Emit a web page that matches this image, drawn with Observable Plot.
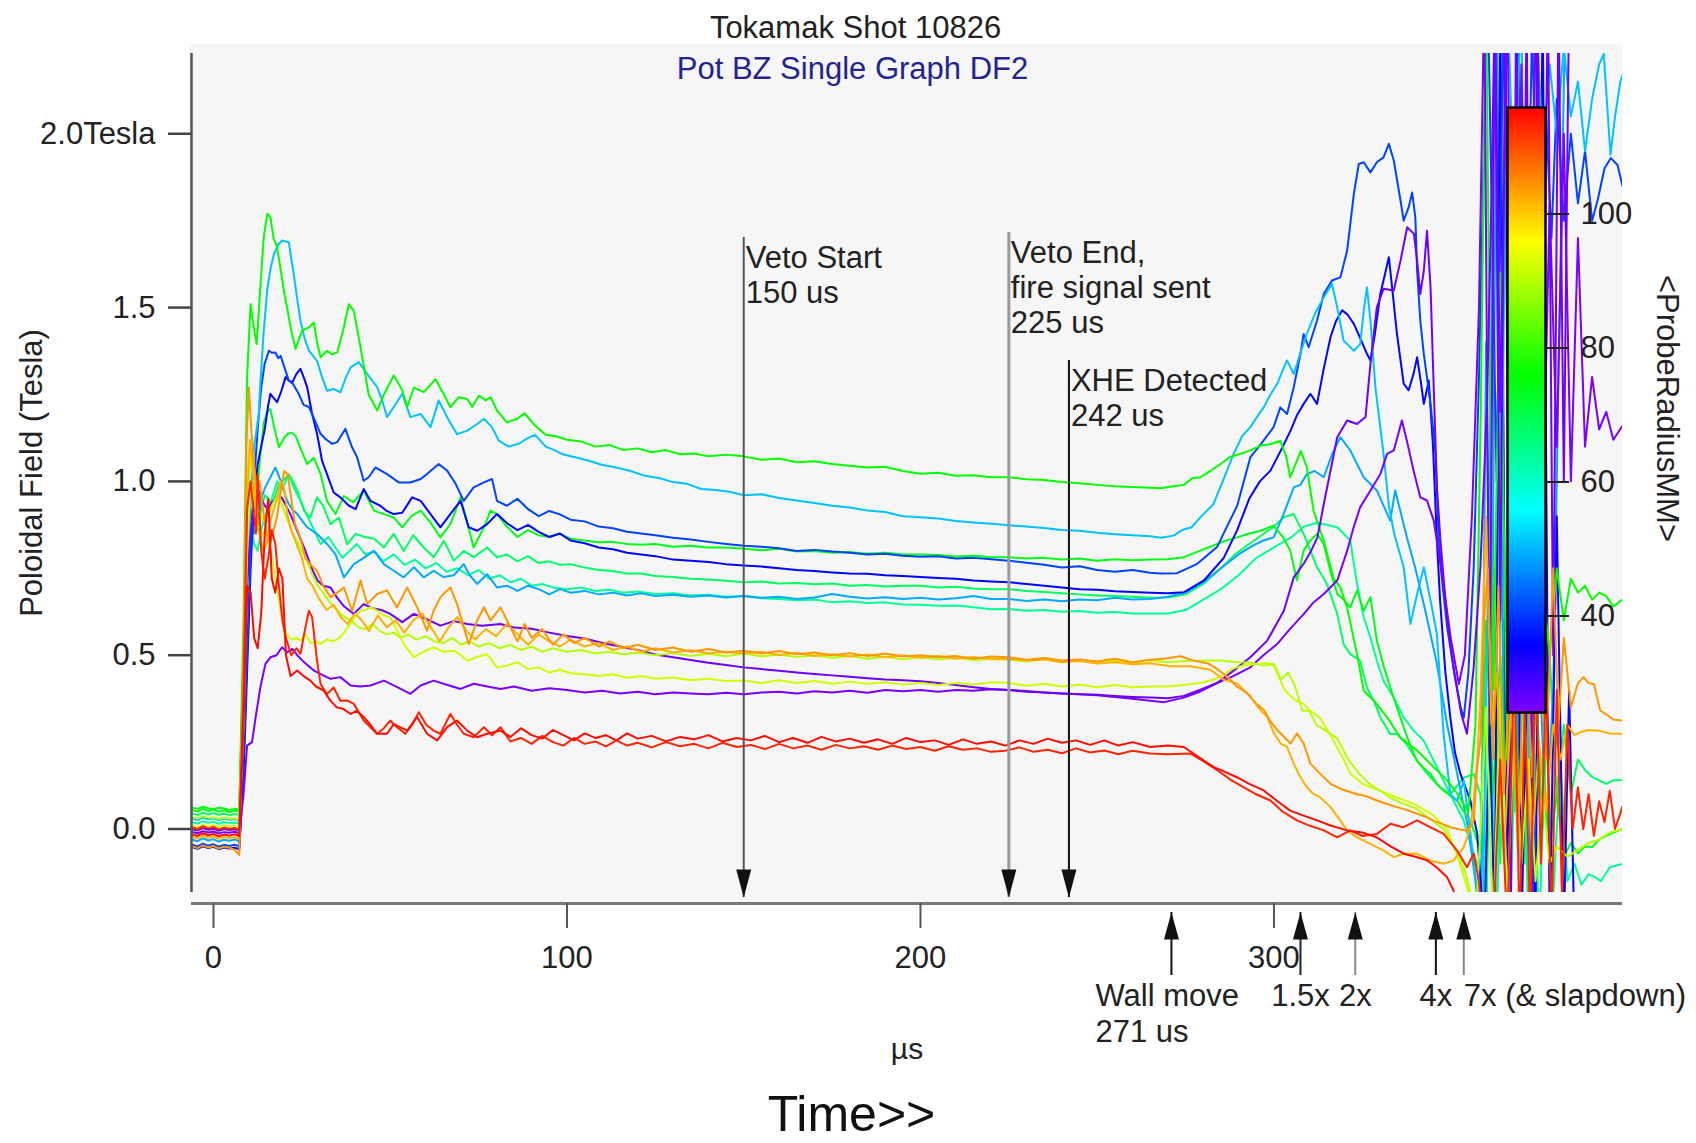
<!DOCTYPE html>
<html><head><meta charset="utf-8">
<script src="https://cdn.jsdelivr.net/npm/d3@7"></script>
<script src="https://cdn.jsdelivr.net/npm/@observablehq/plot@0.6"></script>
<style>
html,body{margin:0;padding:0;background:#fff;}
#wrap{position:relative;width:1696px;height:1143px;overflow:hidden;}
</style></head><body><div id="wrap"></div>
<script>
// ---------------- DATA ----------------
const xDomain = [-6.22, 398.6];
const yDomain = [-0.1826, 2.2309];
const xTicks = [0, 100, 200, 300];
const yTicks = [0, 0.5, 1, 1.5, 2];
const radiusDomain = [25.6, 115.9];
const radiusTicks = [40, 60, 80, 100];

const vetoTimes = [150, 225, 242];
const vetoLabels = ["Veto Start\n150 us", "Veto End,\nfire signal sent\n225 us", "XHE Detected\n242 us"];
const wallTimes = [271, 307.5, 323, 345.8, 353.7];
const wallLabels = ["Wall move\n271 us", "1.5x", "2x", "4x", "7x (& slapdown)"];

const greenTop = [[-6.2,0.055],[-4.5,0.05],[-3,0.058],[-1.5,0.052],[0,0.056],[1.5,0.05],[3,0.054],[4.5,0.049],[6,0.053],[7.3,0.05],
[8.5,0.6],[9.5,1.3],[10.5,1.51],[11.3,1.45],[12.2,1.395],[13.2,1.55],[14.2,1.7],[15.2,1.77],[16.1,1.76],[17,1.7],[18,1.673],[19,1.61],[19.9,1.549],[21,1.49],[21.8,1.443],[23.2,1.381],[24.2,1.41],[25.1,1.434],[27,1.443],[28.4,1.457],[29.3,1.4],[30.3,1.357],[32.1,1.376],[33.5,1.365],[35,1.371],[36.8,1.44],[38.3,1.51],[39.7,1.49],[41.6,1.386],[43.9,1.25],[46.3,1.204],[48.2,1.25],[51,1.305],[53.4,1.262],[54.8,1.214],[56.7,1.27],[59.5,1.257],[62.8,1.294],[65.2,1.25],[67,1.214],[69.4,1.242],[71.8,1.237],[73.2,1.214],[75.1,1.247],[77,1.233],[78.4,1.242],[80.2,1.204],[83,1.17],[86,1.18],[88,1.196],[91,1.16],[94,1.134],[97,1.13],[100,1.12],[104,1.115],[108,1.1],[112,1.105],[116,1.09],[120,1.095],[124,1.084],[128,1.09],[132,1.078],[136,1.08],[140,1.072],[145,1.077],[150,1.072],[155,1.062],[160,1.066],[165,1.055],[170,1.058],[175,1.05],[180,1.045],[185,1.04],[190,1.042],[195,1.03],[200,1.022],[205,1.025],[210,1.016],[215,1.018],[220,1.012],[225,1.012],[230,1.006],[235,1.004],[240,0.998],[245,0.995],[250,0.99],[255,0.986],[260,0.984],[265,0.982],[268,0.98],[271,0.985],[274.5,0.99],[277,1.01],[279.2,1.012],[282,1.03],[284.9,1.05],[287.5,1.07],[290.5,1.079],[293.5,1.09],[296.2,1.103],[299,1.107],[301.8,1.117],[303.5,1.07],[304.6,1.012],[306.5,1.06],[307.6,1.088],[309.3,1.04],[311.2,0.916],[314.1,0.829],[316.9,0.72],[318.8,0.695],[320.7,0.637],[323.5,0.503],[325.4,0.398],[328.2,0.37],[332,0.322],[335.7,0.264],[340.5,0.226],[345.2,0.178],[349,0.14],[352,0.1],[355,0.05],[357,0.3],[358.5,1.2],[360,2.4],[362,0.4],[364,1.6],[366,0.2],[368,0.9],[370,0.5],[372,0.8],[374,0.3],[376,0.7],[378,0.5],[380,0.75],[382,0.6],[384,0.72],[386,0.68],[388,0.7],[390,0.66],[392,0.68],[394,0.67],[396,0.64],[398.6,0.66]];

const skyTop = [[-6.2,0.03],[-4.5,0.026],[-3,0.033],[-1.5,0.028],[0,0.031],[1.5,0.025],[3,0.03],[4.5,0.027],[6,0.029],[7.3,0.025],
[8.5,0.3],[9.5,0.7],[10.5,0.95],[11.5,1.1],[12.8,1.194],[13.3,1.29],[14.2,1.43],[15.2,1.55],[16.1,1.61],[17.1,1.654],[18.3,1.68],[19.4,1.693],[20.5,1.69],[21.3,1.688],[22.7,1.597],[23.6,1.53],[24.6,1.463],[25.8,1.41],[27,1.376],[29.3,1.347],[30.7,1.3],[32.1,1.261],[34,1.266],[35.9,1.256],[37.5,1.3],[38.8,1.328],[41.1,1.343],[43.5,1.309],[46.3,1.271],[47.8,1.23],[49.1,1.185],[51,1.214],[53.4,1.252],[55.7,1.185],[58.6,1.194],[61.4,1.156],[63.7,1.233],[66.6,1.175],[68.9,1.136],[71.8,1.146],[74.6,1.165],[76.5,1.18],[78.8,1.156],[80.7,1.117],[83.5,1.1],[86.5,1.109],[89,1.125],[91,1.134],[94,1.1],[96.5,1.09],[98.8,1.078],[102,1.07],[106,1.06],[110,1.047],[114,1.04],[118,1.03],[122,1.016],[126,1.01],[130,0.998],[134,0.993],[138,0.978],[142,0.975],[146,0.97],[150,0.96],[155,0.963],[160,0.952],[165,0.945],[170,0.938],[175,0.93],[180,0.925],[185,0.916],[190,0.912],[195,0.9],[200,0.897],[205,0.893],[210,0.886],[215,0.882],[220,0.878],[225,0.874],[230,0.87],[235,0.866],[240,0.86],[245,0.858],[250,0.852],[255,0.848],[260,0.845],[265,0.842],[268,0.838],[271.6,0.844],[274,0.86],[276.7,0.868],[279.5,0.9],[282.9,0.935],[285.5,1.0],[288.6,1.079],[291,1.13],[293.3,1.156],[295.5,1.19],[297.1,1.213],[299,1.25],[300.9,1.28],[302.5,1.32],[303.7,1.348],[305.6,1.309],[307.5,1.37],[309.3,1.424],[311.5,1.48],[314.1,1.53],[316.4,1.568],[317.9,1.5],[319.7,1.405],[322.6,1.376],[324.4,1.395],[325.5,1.5],[326.3,1.558],[327.3,1.462],[328.7,1.27],[331,1.079],[332.5,0.93],[334,0.85],[336.7,0.753],[338.6,0.59],[340.5,0.676],[342.4,0.753],[344.3,0.657],[346.1,0.561],[348,0.273],[349.9,0.1],[351.8,0.081],[353.7,0.139],[355.6,-0.014],[357.5,-0.177],[359,-0.3],[361,1.0],[362.5,2.4],[364,0.5],[366,2.4],[368,1.8],[370,2.4],[372,0.2],[374,2.4],[376,1.95],[378,2.2],[380,2.0],[382,2.25],[384,2.05],[386,2.15],[388,1.95],[390,2.1],[392,2.2],[393.3,2.23],[395.2,1.94],[396.5,2.05],[398,2.15],[398.6,2.17]];

const blueUpper = [[-6.2,-0.045],[-4.5,-0.05],[-3,-0.042],[-1.5,-0.048],[0,-0.044],[1.5,-0.051],[3,-0.046],[4.5,-0.049],[6,-0.045],[7.3,-0.05],
[8.5,0.2],[9.5,0.5],[10.5,0.8],[11.5,1.0],[12.5,1.15],[13.5,1.27],[14.5,1.34],[15.7,1.376],[16.5,1.37],[17.5,1.371],[18.3,1.355],[19,1.361],[20,1.33],[21.3,1.29],[22.5,1.28],[24.1,1.252],[25.5,1.22],[27,1.214],[28.5,1.18],[30.3,1.137],[31.7,1.122],[33.6,1.108],[35,1.113],[37.3,1.151],[39.2,1.098],[40.6,1.07],[42.5,1.002],[43.9,1.012],[45.8,1.04],[49.1,1.021],[52.4,0.997],[55.7,0.997],[58.6,1.007],[60.4,1.021],[63.7,1.05],[66.1,1.031],[68.5,0.993],[70.8,0.944],[73.6,0.983],[76.5,0.997],[78.8,1.007],[80.2,0.944],[83,0.93],[86,0.95],[89,0.92],[92,0.9],[95,0.915],[98,0.905],[101,0.89],[105,0.885],[109,0.87],[113,0.865],[117,0.855],[121,0.85],[125,0.845],[130,0.838],[135,0.833],[140,0.826],[145,0.82],[150,0.815],[155,0.812],[160,0.808],[165,0.8],[170,0.803],[175,0.798],[180,0.795],[185,0.79],[190,0.792],[195,0.786],[200,0.783],[205,0.785],[210,0.778],[215,0.78],[220,0.776],[225,0.772],[230,0.766],[235,0.76],[240,0.752],[245,0.756],[250,0.745],[255,0.74],[260,0.745],[265,0.737],[268,0.735],[272.6,0.736],[278.3,0.763],[283.9,0.811],[286.7,0.87],[289.6,0.93],[293.3,1.069],[296.5,1.11],[299.9,1.156],[301.8,1.213],[303.7,1.194],[305.6,1.271],[307.5,1.367],[308.4,1.424],[309.8,1.386],[312.2,1.463],[314.1,1.54],[316.4,1.578],[318.8,1.587],[320.7,1.664],[322.6,1.827],[324,1.913],[325.4,1.918],[327.3,1.889],[329.1,1.918],[331,1.932],[332.5,1.971],[333.9,1.923],[335.8,1.808],[336.7,1.75],[338.1,1.788],[339.1,1.831],[340,1.759],[340.5,1.606],[341.4,1.462],[342.4,1.366],[344.3,1.222],[345.7,1.079],[346.6,0.84],[347.5,0.72],[349,0.58],[351,0.45],[352.8,0.35],[353.7,0.32],[355,0.45],[356.5,0.75],[358,1.3],[359.5,2.0],[360.5,2.4],[363,1.0],[365,2.4],[367,0.3],[369,2.4],[371,1.2],[373,2.3],[375,1.5],[377,2.05],[378.5,1.7],[380,2.1],[382,1.75],[384,2.0],[386,1.8],[388,1.95],[390,1.75],[391.6,1.81],[393.5,1.9],[395.3,1.93],[397.2,1.91],[398.6,1.85]];

const blueLower = [[-6.2,-0.052],[-4.5,-0.057],[-3,-0.05],[-1.5,-0.055],[0,-0.051],[1.5,-0.058],[3,-0.053],[4.5,-0.056],[6,-0.054],[7.3,-0.058],
[8.5,0.15],[9.5,0.45],[10.5,0.75],[11.5,0.95],[12.5,1.05],[13.5,1.1],[14.5,1.15],[15.5,1.22],[16.1,1.252],[17,1.24],[18,1.228],[19.2,1.26],[20.4,1.3],[21.3,1.29],[22.3,1.285],[23.5,1.31],[24.6,1.324],[25.5,1.3],[26.5,1.271],[27.9,1.194],[29.3,1.137],[30.7,1.06],[32.1,1.021],[34,0.968],[35.9,0.954],[38.3,0.93],[40.2,0.92],[42.5,0.978],[44.4,0.944],[47.2,0.93],[49,0.915],[51,0.906],[53.4,0.91],[56.2,0.954],[58.6,0.944],[61.4,0.906],[64.2,0.868],[67,0.906],[69.9,0.944],[72.2,0.868],[74.6,0.858],[77.4,0.877],[80.2,0.906],[83,0.88],[86,0.86],[89,0.875],[92,0.855],[95,0.84],[98,0.85],[101,0.83],[105,0.822],[109,0.81],[113,0.805],[117,0.795],[121,0.79],[125,0.785],[130,0.775],[135,0.772],[140,0.768],[145,0.762],[150,0.758],[155,0.755],[160,0.75],[165,0.745],[170,0.742],[175,0.738],[180,0.735],[185,0.734],[190,0.73],[195,0.728],[200,0.725],[205,0.722],[210,0.72],[215,0.715],[220,0.712],[225,0.71],[230,0.705],[235,0.7],[240,0.695],[245,0.69],[250,0.688],[255,0.684],[260,0.682],[265,0.68],[270,0.678],[274.5,0.681],[280.2,0.715],[285.8,0.78],[289.6,0.86],[293,0.95],[296,1.0],[299,1.031],[302,1.09],[304.7,1.146],[306.5,1.19],[308.4,1.223],[310.3,1.252],[312.2,1.223],[314,1.32],[316,1.415],[317.5,1.46],[319.3,1.492],[320.8,1.48],[322.6,1.453],[324.5,1.41],[326.3,1.367],[327.3,1.348],[328.5,1.42],[330.1,1.54],[331.5,1.6],[332.5,1.645],[333.5,1.55],[334.8,1.424],[336.7,1.281],[338.1,1.262],[339.5,1.31],[340.5,1.357],[341.5,1.29],[342.4,1.223],[343.8,1.29],[345,1.1],[346.1,0.829],[347,0.657],[348.5,0.45],[349.9,0.32],[351.2,0.22],[352.8,0.157],[355.6,0.081],[357.5,-0.014],[358.5,-0.158],[359.5,-0.3],[361,0.3],[362.5,-0.3],[364,2.4],[366,-0.3],[368,1.8],[370,-0.3],[372,0.6],[374,-0.3],[376,2.4],[378,-0.3],[380,0.9],[382,-0.3],[383.5,0.4],[385,-0.3]];

const greenMid = [[-6.2,0.062],[-4.5,0.058],[-3,0.064],[-1.5,0.06],[0,0.057],[1.5,0.062],[3,0.059],[4.5,0.055],[6,0.058],[7.3,0.056],
[8.5,0.5],[9.5,0.85],[10.5,1.0],[11.4,0.99],[12.4,0.982],[13.3,1.08],[14.2,1.168],[15.2,1.2],[16.1,1.208],[17.3,1.15],[18.5,1.098],[19.7,1.12],[20.8,1.136],[22,1.14],[23.2,1.132],[24.8,1.09],[26.5,1.05],[28.4,1.068],[30.3,1.021],[32.1,0.944],[34.5,0.906],[36.9,0.958],[39.5,0.94],[42.5,0.973],[45.4,0.916],[48.2,0.906],[51,0.896],[53.4,0.868],[56,0.9],[58.6,0.916],[61.5,0.88],[64.2,0.839],[67,0.877],[69.9,0.954],[71.8,0.88],[73.6,0.81],[76.5,0.868],[78.4,0.916],[80.2,0.906],[83,0.87],[86,0.84],[89,0.86],[92,0.845],[95,0.84],[98,0.85],[101,0.835],[105,0.83],[109,0.825],[113,0.826],[117,0.82],[121,0.818],[125,0.82],[130,0.812],[135,0.815],[140,0.81],[145,0.81],[150,0.806],[155,0.802],[160,0.806],[165,0.798],[170,0.8],[175,0.795],[180,0.797],[185,0.792],[190,0.795],[195,0.79],[200,0.79],[205,0.788],[210,0.784],[215,0.786],[220,0.782],[225,0.782],[230,0.778],[235,0.78],[240,0.775],[245,0.778],[250,0.772],[255,0.776],[260,0.773],[265,0.775],[270,0.776],[274.5,0.782],[279,0.8],[283.9,0.82],[286.5,0.83],[289.6,0.839],[293,0.85],[296.2,0.858],[299.9,0.873],[302.5,0.84],[304.6,0.801],[306.5,0.715],[308.4,0.801],[310.3,0.83],[312.2,0.849],[314.1,0.82],[316,0.74],[317.9,0.676],[319.7,0.66],[321.6,0.638],[323.5,0.686],[325.4,0.628],[327.3,0.667],[329.1,0.542],[331,0.47],[332.9,0.407],[334.8,0.35],[336.7,0.292],[338.6,0.24],[340.5,0.196],[342.4,0.175],[344.3,0.158],[346.1,0.13],[348,0.11],[350,0.095],[351.8,0.082],[353.7,0.05],[355.6,0.024],[358.4,-0.062],[360,0.6],[362,0.1],[364,0.5],[366,0.0],[368,0.4],[370,-0.05],[372,0.35],[374,0.05],[376,0.2],[378,-0.05],[380,0.1],[382,-0.08],[384,-0.04],[386,-0.07],[388,-0.05],[390,-0.052],[392,-0.03],[394,-0.02],[396,-0.01],[398.6,0.0]];

const tealMid = [[-6.2,0.045],[-4.5,0.04],[-3,0.047],[-1.5,0.042],[0,0.046],[1.5,0.041],[3,0.044],[4.5,0.04],[6,0.043],[7.3,0.04],
[8.5,0.5],[9.5,0.85],[10.5,0.92],[11.5,0.88],[12.5,0.86],[13.5,0.92],[14.5,0.96],[15.5,0.95],[16.5,0.93],[17.5,0.96],[18.5,0.99],[19.5,1.0],[21.3,1.02],[22.5,1.0],[23.7,0.974],[25.6,0.916],[27.4,0.896],[29.3,0.954],[31,0.93],[33.1,0.877],[35.5,0.896],[37.8,0.819],[40.2,0.849],[42.8,0.84],[45.5,0.835],[48.2,0.81],[51,0.849],[53.8,0.8],[56.5,0.845],[59.5,0.81],[62.3,0.782],[65.2,0.829],[68,0.772],[70.8,0.8],[73.6,0.782],[77.4,0.81],[80.2,0.782],[83,0.79],[86,0.77],[89,0.785],[92,0.765],[95,0.77],[98,0.76],[101,0.762],[105,0.752],[109,0.745],[113,0.742],[117,0.735],[121,0.735],[125,0.728],[130,0.725],[135,0.72],[140,0.718],[145,0.714],[150,0.71],[155,0.712],[160,0.706],[165,0.708],[170,0.704],[175,0.706],[180,0.7],[185,0.702],[190,0.698],[195,0.7],[200,0.7],[205,0.695],[210,0.697],[215,0.692],[220,0.69],[225,0.69],[230,0.685],[235,0.682],[240,0.678],[245,0.675],[250,0.672],[255,0.67],[260,0.668],[265,0.665],[270,0.666],[275,0.675],[280,0.705],[285,0.75],[289,0.79],[293,0.82],[296.5,0.845],[300,0.87],[302.8,0.897],[305.6,0.906],[308.4,0.849],[310.3,0.801],[312.2,0.753],[315,0.705],[317.9,0.619],[319.7,0.532],[321.6,0.503],[324.4,0.484],[326.3,0.407],[328.2,0.369],[330.1,0.321],[332.9,0.273],[334.8,0.273],[337.6,0.244],[340.5,0.196],[344.3,0.148],[347.1,0.119],[349.9,0.1],[353.7,0.148],[356.5,0.158],[358.4,0.1],[360,-0.3],[362,0.7],[364,-0.1],[366,0.5],[368,0.05],[370,0.6],[372,-0.3],[374,0.45],[376,0.0],[378,0.5],[380,0.1],[382,0.3],[384,0.1],[386,0.2],[388,0.17],[390,0.15],[392,0.14],[394,0.13],[396,0.14],[398.6,0.14]];

const cyanMid = [[-6.2,-0.03],[-4.5,-0.035],[-3,-0.027],[-1.5,-0.033],[0,-0.029],[1.5,-0.036],[3,-0.031],[4.5,-0.034],[6,-0.03],[7.3,-0.035],
[8.5,0.35],[9.5,0.8],[10.5,0.9],[11.5,0.85],[12.5,0.88],[13.5,0.95],[14.5,0.98],[15.5,1.0],[16.5,1.02],[17.5,1.04],[19,1.002],[20.8,0.945],[22.2,0.92],[23.7,0.906],[26.5,0.868],[29.3,0.849],[32.1,0.82],[34.5,0.791],[36.9,0.724],[39.7,0.762],[42.5,0.78],[45.4,0.8],[48.2,0.762],[51,0.743],[53.8,0.724],[56.7,0.753],[59.5,0.724],[62.3,0.743],[65,0.725],[68,0.73],[70.8,0.762],[72.5,0.73],[74.6,0.705],[77.4,0.733],[80.2,0.695],[83,0.7],[86,0.685],[89,0.7],[92,0.69],[95,0.675],[98,0.69],[101,0.68],[105,0.685],[109,0.675],[113,0.68],[117,0.672],[121,0.678],[125,0.67],[130,0.674],[135,0.668],[140,0.672],[145,0.666],[150,0.67],[155,0.665],[160,0.668],[165,0.662],[170,0.666],[175,0.676],[180,0.668],[185,0.663],[190,0.667],[195,0.662],[200,0.665],[205,0.66],[210,0.664],[215,0.67],[220,0.662],[225,0.662],[230,0.656],[235,0.66],[240,0.655],[245,0.66],[250,0.658],[255,0.665],[260,0.66],[265,0.662],[270,0.668],[275,0.68],[280,0.71],[285,0.75],[290,0.79],[294,0.815],[297,0.83],[299.9,0.839],[302.5,0.9],[305.6,0.983],[307.5,0.99],[309.3,1.021],[311.5,1.03],[314.1,1.012],[316.5,1.08],[318.8,1.127],[321.6,1.089],[323.5,1.05],[325.4,1.012],[329.1,0.974],[332.9,0.887],[334.3,0.974],[337.6,0.839],[340,0.75],[343,0.62],[346,0.48],[349,0.3],[352,0.15],[355,0.0],[357,-0.15],[358.5,-0.3],[360,1.4],[361.5,0.1],[363,2.4],[365,0.3],[367,1.0],[369,0.2],[371,0.6],[373,-0.3],[375,0.5],[377,0.0],[379,0.4],[381,1.6],[382.5,2.4]];

const seaGreen = [[-6.2,0.02],[-4.5,0.016],[-3,0.022],[-1.5,0.018],[0,0.021],[1.5,0.015],[3,0.02],[4.5,0.017],[6,0.019],[7.3,0.015],
[8.5,0.4],[9.5,0.8],[10.5,0.88],[11.5,0.82],[12.5,0.8],[13.5,0.86],[14.5,0.9],[15.5,0.92],[16.5,0.95],[18,1.0],[19.5,0.98],[21.3,1.02],[22.8,0.98],[24.6,0.945],[26.5,0.9],[28.5,0.86],[30.3,0.82],[32.5,0.84],[34.5,0.81],[36.5,0.78],[38.5,0.8],[40.5,0.82],[43,0.79],[45.5,0.8],[48,0.77],[51,0.79],[54,0.76],[57,0.775],[60,0.75],[63,0.765],[66,0.74],[69,0.75],[72,0.73],[75,0.745],[78,0.72],[81,0.73],[84,0.71],[87,0.72],[90,0.7],[93,0.705],[96,0.695],[100,0.69],[104,0.695],[108,0.685],[112,0.688],[116,0.68],[120,0.683],[125,0.676],[130,0.678],[135,0.672],[140,0.674],[145,0.668],[150,0.67],[155,0.664],[160,0.662],[165,0.658],[170,0.66],[175,0.652],[180,0.655],[185,0.65],[190,0.652],[195,0.646],[200,0.645],[205,0.642],[210,0.643],[215,0.638],[220,0.632],[225,0.633],[230,0.628],[235,0.63],[240,0.625],[245,0.627],[250,0.622],[255,0.624],[260,0.62],[265,0.62],[270,0.62],[275,0.63],[280,0.66],[285,0.69],[290,0.73],[295,0.78],[300,0.81],[305,0.84],[308.5,0.87],[312,0.88],[315,0.875],[317.9,0.868],[321.6,0.83],[323.5,0.705],[325.4,0.609],[327.3,0.551],[329.1,0.484],[331,0.426],[333.9,0.378],[336.7,0.321],[339.5,0.283],[342.4,0.254],[345.2,0.196],[348,0.139],[350.8,0.082],[353.7,0.024],[355.6,-0.043],[358.4,-0.129],[359.5,-0.3],[361,0.5],[363,-0.3],[365,0.6],[367,-0.2],[369,0.55],[371,-0.1],[373,0.45],[375,-0.3],[377,0.3],[379,-0.2],[381,0.2],[383,-0.15],[385,-0.1],[387,-0.16],[389,-0.13],[391,-0.14],[392.5,-0.15],[395,-0.11],[398.6,-0.1]];

const orangeA = [[-6.2,-0.05],[-4.5,-0.055],[-3,-0.047],[-1.5,-0.053],[0,-0.049],[1.5,-0.056],[3,-0.051],[4.5,-0.054],[6,-0.06],[7.3,-0.075],
[8.5,0.5],[9.3,1.1],[10,1.27],[10.7,1.15],[11.4,1.057],[12.2,0.98],[13,1.0],[14,0.92],[15,0.85],[16,0.82],[17,0.86],[18,0.9],[19,0.97],[20,1.03],[21,1.02],[22,0.95],[23,0.88],[24.5,0.84],[26,0.78],[27.5,0.76],[29.3,0.743],[31,0.7],[33.1,0.667],[35,0.68],[36.9,0.695],[39.2,0.628],[41.6,0.715],[43.5,0.647],[46.3,0.676],[49.1,0.686],[51.9,0.638],[54.8,0.695],[57.6,0.638],[60.4,0.571],[62.3,0.628],[64.2,0.667],[67,0.695],[68.9,0.647],[72.2,0.532],[74.6,0.6],[76.5,0.638],[78.4,0.6],[81.2,0.638],[84,0.58],[86,0.54],[88,0.59],[90,0.55],[93,0.575],[96,0.53],[99,0.56],[102,0.535],[105,0.55],[109,0.525],[112,0.54],[116,0.52],[120,0.53],[125,0.515],[130,0.522],[135,0.51],[140,0.518],[145,0.508],[150,0.513],[155,0.505],[160,0.512],[165,0.503],[170,0.508],[175,0.5],[180,0.506],[185,0.498],[190,0.505],[195,0.496],[200,0.5],[205,0.495],[210,0.498],[215,0.49],[220,0.496],[225,0.494],[230,0.487],[235,0.492],[240,0.485],[245,0.488],[250,0.482],[255,0.49],[260,0.48],[265,0.487],[269,0.49],[273.6,0.497],[277,0.485],[281.2,0.477],[284,0.46],[286.8,0.438],[289.5,0.41],[292.5,0.39],[295,0.36],[297.2,0.342],[299,0.31],[301,0.284],[304.7,0.246],[306.5,0.275],[308.4,0.246],[310.3,0.188],[313,0.16],[316,0.13],[319,0.115],[323.5,0.1],[326,0.095],[329.1,0.082],[332,0.072],[334.8,0.063],[337.5,0.055],[340.5,0.044],[343,0.035],[345.2,0.024],[347.5,0.015],[349.9,0.005],[352,0.0],[354.6,-0.005],[356.5,0.024],[357.5,0.177],[358.4,0.254],[359.5,0.6],[360.5,0.75],[362,0.2],[363.5,0.7],[365,0.1],[367,0.5],[369,-0.05],[371,0.6],[373,0.15],[375,0.55],[377,0.2],[379,0.75],[380.5,0.3],[382,0.55],[384,0.35],[386,0.42],[387.6,0.437],[389,0.42],[390.5,0.417],[392.3,0.341],[394,0.33],[396,0.315],[398.6,0.312]];

const orangeB = [[-6.2,-0.022],[-4.5,-0.027],[-3,-0.019],[-1.5,-0.025],[0,-0.021],[1.5,-0.028],[3,-0.023],[4.5,-0.026],[6,-0.024],[7.3,-0.03],
[8.5,0.4],[9.5,0.95],[10.3,1.12],[11,1.05],[12,0.92],[13,0.85],[14,0.8],[15,0.82],[16,0.88],[17,0.92],[18,0.95],[19,1.0],[20,0.98],[21,0.9],[22,0.86],[23.5,0.82],[25,0.78],[26.5,0.72],[28,0.7],[30,0.66],[32,0.63],[34,0.645],[36,0.61],[38,0.59],[40,0.62],[42,0.6],[44,0.57],[46.5,0.615],[49,0.58],[51.5,0.6],[54,0.565],[56.5,0.6],[59,0.62],[61.5,0.58],[64,0.54],[66.5,0.58],[69,0.61],[71.5,0.57],[74,0.545],[77,0.575],[80,0.555],[83,0.59],[86,0.56],[89,0.53],[92,0.56],[95,0.54],[98,0.525],[101,0.545],[105,0.525],[109,0.535],[113,0.515],[117,0.525],[121,0.51],[125,0.52],[130,0.508],[135,0.514],[140,0.505],[145,0.51],[150,0.505],[155,0.51],[160,0.5],[165,0.507],[170,0.498],[175,0.503],[180,0.496],[185,0.502],[190,0.494],[195,0.5],[200,0.493],[205,0.498],[210,0.49],[215,0.495],[220,0.488],[225,0.49],[230,0.485],[235,0.488],[240,0.48],[245,0.483],[250,0.476],[255,0.48],[260,0.474],[265,0.477],[270.6,0.468],[276.4,0.468],[282.1,0.458],[285.8,0.429],[289.6,0.419],[293.3,0.381],[296.2,0.342],[298.1,0.323],[300,0.275],[301.9,0.246],[303.7,0.236],[305.6,0.188],[307.5,0.149],[309.3,0.12],[311.2,0.101],[313.1,0.091],[316,0.063],[318.8,0.024],[320.7,-0.004],[323.5,-0.024],[327.3,-0.043],[331,-0.062],[333.9,-0.081],[336.7,-0.071],[340.5,-0.071],[344.3,-0.091],[348,-0.1],[350.8,-0.091],[353.7,-0.052],[355.6,0.005],[356.5,0.082],[357.5,0.2],[358.5,0.4],[360,0.9],[361.5,0.3],[363,0.45],[365,-0.1],[367,0.35],[369,0.0],[371,0.3],[373,-0.05],[375,0.25],[377,0.05],[379,0.3],[381,0.2],[383,0.3],[385,0.27],[387,0.28],[389,0.285],[392,0.283],[395,0.275],[398.6,0.274]];

const yellowGreenA = [[-6.2,0.035],[-4.5,0.03],[-3,0.037],[-1.5,0.032],[0,0.034],[1.5,0.029],[3,0.033],[4.5,0.03],[6,0.031],[7.3,0.028],
[8.5,0.4],[9.5,0.9],[10.5,1.08],[11.5,1.0],[12.5,0.93],[13.5,0.9],[14.5,0.88],[15.5,0.9],[16.5,0.93],[17.5,0.95],[18.5,0.96],[19.5,0.93],[20.5,0.9],[22,0.86],[23.5,0.83],[25,0.8],[26.5,0.77],[28,0.73],[29.5,0.7],[31,0.68],[33,0.65],[35,0.63],[37,0.61],[39,0.6],[41,0.58],[43,0.575],[45,0.59],[47,0.57],[49,0.56],[51,0.565],[53,0.55],[55,0.56],[57.5,0.545],[60,0.555],[62.5,0.54],[65,0.535],[67.5,0.55],[70,0.53],[72.5,0.54],[75,0.525],[78,0.535],[81,0.52],[84,0.53],[87,0.515],[90,0.525],[93,0.51],[96,0.52],[100,0.51],[104,0.515],[108,0.505],[112,0.51],[116,0.503],[120,0.508],[125,0.5],[130,0.506],[135,0.498],[140,0.504],[145,0.497],[150,0.505],[155,0.497],[160,0.502],[165,0.495],[170,0.5],[175,0.493],[180,0.498],[185,0.49],[190,0.496],[195,0.488],[200,0.495],[205,0.488],[210,0.493],[215,0.486],[220,0.49],[225,0.487],[230,0.482],[235,0.488],[240,0.48],[245,0.486],[250,0.48],[255,0.484],[260,0.478],[265,0.485],[270,0.48],[275,0.483],[280,0.485],[285,0.485],[290,0.48],[294,0.478],[297,0.47],[300,0.475],[302,0.43],[304,0.45],[306,0.41],[308,0.34],[310,0.34],[312,0.3],[315,0.28],[318,0.26],[321,0.2],[324,0.16],[327,0.13],[330,0.11],[333,0.09],[336,0.075],[340,0.06],[344,0.03],[348,0.0],[351,-0.05],[354,-0.12],[356,-0.2],[357,-0.3],[360,0.35],[362,-0.3],[364,0.4],[366,-0.2],[368,0.3],[370,-0.1],[372,0.2],[374,-0.15],[376,0.1],[378,-0.1],[380,-0.05],[383,-0.08],[386,-0.06],[389,-0.04],[392,-0.03],[395,-0.01],[398.6,0.0]];

const yellowGreenB = [[-6.2,0.01],[-4.5,0.006],[-3,0.012],[-1.5,0.008],[0,0.011],[1.5,0.005],[3,0.01],[4.5,0.007],[6,0.009],[7.3,0.005],
[8.5,0.3],[9.5,0.8],[10.5,1.0],[11.5,0.95],[12.5,0.88],[13.5,0.84],[14.5,0.86],[15.5,0.83],[16.5,0.78],[17.5,0.72],[18.5,0.66],[19.5,0.6],[20.5,0.565],[21.5,0.55],[22.5,0.545],[23.5,0.55],[24.6,0.542],[26,0.56],[27.5,0.535],[29,0.54],[30.3,0.532],[32,0.545],[34,0.54],[35.9,0.552],[38,0.58],[40,0.61],[41.6,0.628],[43,0.63],[44.4,0.638],[46,0.63],[48,0.615],[50,0.609],[52,0.57],[53.8,0.532],[55.5,0.51],[56.7,0.494],[58.5,0.505],[60.5,0.515],[62.3,0.523],[65,0.51],[68,0.513],[70,0.5],[71.8,0.484],[74.5,0.495],[77.4,0.503],[80.2,0.465],[83,0.47],[86,0.48],[89,0.46],[92,0.465],[95,0.45],[98,0.458],[101,0.448],[105,0.445],[109,0.44],[113,0.445],[117,0.435],[121,0.44],[125,0.432],[130,0.436],[135,0.428],[140,0.432],[145,0.426],[150,0.427],[155,0.42],[160,0.428],[165,0.42],[170,0.426],[175,0.418],[180,0.424],[185,0.418],[190,0.422],[195,0.416],[200,0.42],[205,0.414],[210,0.42],[215,0.416],[220,0.422],[225,0.42],[230,0.412],[235,0.418],[240,0.41],[245,0.415],[250,0.408],[255,0.414],[260,0.408],[265,0.41],[270,0.41],[275,0.415],[279,0.42],[283,0.43],[286,0.445],[288,0.46],[291,0.47],[295,0.475],[298,0.478],[300,0.47],[303,0.4],[306,0.37],[308.4,0.36],[310.3,0.34],[313,0.32],[316,0.27],[319.7,0.2],[321.6,0.16],[325,0.13],[330,0.11],[335,0.09],[340,0.07],[345,0.04],[349,0.0],[352,-0.08],[355,-0.18],[356.5,-0.3]];

const purpleA = [[-6.2,0.0],[-4.5,-0.004],[-3,0.003],[-1.5,-0.002],[0,0.001],[1.5,-0.005],[3,0.0],[4.5,-0.003],[6,-0.001],[7.3,-0.004],
[8.5,0.3],[9.5,0.7],[10.5,0.85],[11.5,0.95],[12.5,0.98],[13.5,0.95],[14.5,0.93],[15.5,0.92],[16.5,0.94],[17.5,0.95],[18.5,0.96],[19.5,0.95],[20.5,0.93],[22,0.9],[24,0.85],[26,0.8],[28,0.745],[29.5,0.714],[31,0.7],[33.1,0.695],[35,0.665],[37,0.64],[39.7,0.619],[42.5,0.647],[45,0.635],[47.5,0.63],[50,0.619],[53.4,0.595],[56.7,0.619],[60,0.605],[64.2,0.585],[68,0.598],[71.8,0.59],[76,0.585],[81.2,0.59],[85,0.58],[90,0.576],[95,0.565],[100,0.555],[105,0.548],[110,0.535],[115,0.525],[120,0.515],[125,0.502],[130,0.494],[135,0.486],[140,0.478],[145,0.472],[150,0.465],[155,0.46],[160,0.455],[165,0.45],[170,0.446],[175,0.442],[180,0.438],[185,0.434],[190,0.43],[195,0.428],[200,0.425],[205,0.42],[210,0.414],[215,0.408],[220,0.403],[225,0.4],[230,0.397],[235,0.393],[240,0.39],[245,0.388],[250,0.386],[255,0.383],[260,0.38],[265,0.378],[270,0.376],[274.5,0.383],[279,0.4],[283.9,0.42],[288.5,0.455],[293.3,0.494],[298.1,0.542],[302.8,0.628],[305.6,0.724],[308.4,0.763],[310.5,0.8],[312.3,0.839],[314.1,0.935],[317.9,1.127],[320.7,1.175],[323.5,1.165],[325.9,1.185],[327.3,1.338],[329.1,1.501],[331,1.554],[333.9,1.549],[335.8,1.635],[337.7,1.731],[339.6,1.712],[340.5,1.635],[341.4,1.539],[342.4,1.606],[343.3,1.721],[344.3,1.558],[345.2,1.27],[346.1,0.983],[347.1,0.83],[349,0.6],[351,0.45],[353,0.33],[354.6,0.274],[356.5,0.465],[358.4,0.753],[360.3,1.232],[361.5,1.8],[362.5,2.4],[364,0.6],[365.5,2.4],[367,-0.3],[368.5,2.4],[370,0.9],[371.5,2.4],[373,-0.3],[374.5,2.4],[376,1.2],[377.5,2.4],[379,0.5],[380.5,2.4],[382,1.0],[383.5,2.4]];

const purpleB = [[-6.2,-0.008],[-4.5,-0.012],[-3,-0.006],[-1.5,-0.01],[0,-0.007],[1.5,-0.013],[3,-0.009],[4.5,-0.011],[6,-0.008],[7.3,-0.012],
[8.5,0.1],[9.5,0.24],[10.9,0.25],[11.9,0.32],[13.3,0.41],[14.7,0.475],[16.1,0.494],[17.8,0.5],[19.4,0.523],[20.8,0.508],[22.3,0.518],[23.7,0.5],[25.1,0.485],[26.8,0.47],[28.4,0.456],[30.5,0.445],[33.1,0.432],[35.9,0.437],[38.8,0.413],[41.5,0.41],[44.4,0.413],[48.2,0.427],[52,0.408],[55.7,0.389],[58.6,0.413],[62.3,0.427],[66,0.415],[69.9,0.403],[73.6,0.418],[77.5,0.41],[81.2,0.403],[85,0.41],[90,0.398],[95,0.405],[100,0.4],[105,0.393],[110,0.398],[115,0.39],[120,0.395],[125,0.388],[130,0.393],[135,0.39],[140,0.388],[145,0.392],[150,0.388],[155,0.393],[160,0.395],[165,0.39],[170,0.396],[175,0.393],[180,0.398],[185,0.392],[190,0.4],[195,0.396],[200,0.4],[205,0.395],[210,0.4],[215,0.398],[220,0.402],[225,0.4],[230,0.395],[235,0.393],[240,0.39],[245,0.388],[250,0.385],[255,0.38],[260,0.375],[265,0.369],[269,0.365],[274.5,0.378],[279,0.395],[283.9,0.42],[288.5,0.44],[293.3,0.465],[297,0.5],[300.9,0.532],[304.5,0.575],[308.4,0.618],[311,0.65],[314.1,0.676],[317.9,0.715],[320.7,0.8],[322.6,0.87],[324.4,0.926],[327.3,0.974],[330.1,1.021],[332,1.079],[333.9,1.089],[336.2,1.175],[337.6,1.117],[339.5,1.031],[341.4,0.954],[343.3,0.945],[345.2,0.887],[346.1,0.829],[348,0.7],[350,0.55],[352.3,0.417],[354,0.5],[356,0.9],[358,1.5],[359.5,2.4],[361,0.3],[362.5,2.4],[364,1.2],[366,2.4],[368,0.8],[370,2.2],[372,1.0],[374,2.4],[376,0.9],[378,1.8],[380,1.1],[382,2.0],[384,1.0],[386,1.7],[388,1.1],[390,1.3],[392,1.15],[394,1.2],[396,1.12],[398.6,1.16]];

const redA = [[-6.2,-0.015],[-4.5,-0.02],[-3,-0.012],[-1.5,-0.018],[0,-0.014],[1.5,-0.021],[3,-0.016],[4.5,-0.019],[6,-0.015],[7.3,-0.02],
[8.5,0.3],[9.5,0.7],[10.5,0.68],[11.5,0.55],[12.5,0.52],[13.5,0.62],[14.5,0.85],[15.5,0.95],[16.5,0.72],[17.5,0.68],[18.5,0.75],[19.5,0.72],[20.5,0.5],[21.8,0.44],[23.7,0.456],[25.5,0.44],[27.4,0.427],[29,0.41],[31.2,0.398],[33,0.37],[34.9,0.35],[36.8,0.345],[38.8,0.331],[40.5,0.34],[42.5,0.322],[44.4,0.3],[46.3,0.274],[49.1,0.274],[51,0.302],[54.8,0.283],[57.6,0.322],[60.4,0.274],[63.3,0.255],[66.1,0.293],[68.9,0.312],[71.8,0.283],[74.6,0.264],[77.4,0.274],[81.2,0.283],[84,0.265],[87,0.29],[90,0.27],[93,0.26],[96,0.285],[99,0.27],[102,0.255],[105,0.275],[108,0.262],[111,0.27],[114,0.255],[117,0.275],[120,0.26],[124,0.268],[128,0.252],[132,0.265],[136,0.258],[140,0.27],[144,0.252],[148,0.262],[152,0.255],[156,0.268],[160,0.25],[164,0.262],[168,0.248],[172,0.265],[176,0.252],[180,0.26],[184,0.248],[188,0.258],[192,0.245],[196,0.262],[200,0.25],[204,0.255],[208,0.242],[212,0.258],[216,0.245],[220,0.252],[224,0.24],[228,0.255],[232,0.245],[236,0.26],[240,0.248],[244,0.255],[248,0.242],[252,0.255],[256,0.24],[260,0.25],[265,0.236],[270,0.24],[274.5,0.236],[279,0.205],[283,0.178],[286,0.165],[289.5,0.149],[293,0.13],[297.1,0.111],[301,0.08],[304.6,0.053],[308,0.04],[312.2,0.025],[316,0.01],[320.7,-0.004],[325,-0.01],[329.1,-0.024],[333,-0.05],[336.7,-0.071],[340,-0.08],[343.3,-0.09],[346,-0.11],[349,-0.139],[350.8,-0.177],[352,-0.3]];

const redB = [[-6.2,0.005],[-4.5,0.0],[-3,0.008],[-1.5,0.002],[0,0.006],[1.5,-0.001],[3,0.004],[4.5,0.001],[6,0.003],[7.3,-0.002],
[8.5,0.4],[9.5,0.92],[10.5,1.0],[11,0.95],[12,0.85],[12.5,1.02],[13.5,0.8],[14.5,0.72],[15.5,0.78],[16.5,0.86],[17.5,0.82],[18.5,0.7],[19.5,0.6],[20.5,0.55],[22,0.5],[23.5,0.52],[24.6,0.504],[26,0.58],[27,0.628],[27.9,0.609],[29.3,0.484],[30.3,0.417],[32.1,0.388],[34,0.407],[35.9,0.369],[37.8,0.37],[39.7,0.36],[42.5,0.312],[44.4,0.293],[46.3,0.274],[48.2,0.29],[50,0.312],[51.9,0.293],[54.3,0.274],[56.2,0.3],[58.1,0.336],[60.2,0.3],[62.3,0.283],[64.2,0.274],[67,0.331],[68.9,0.3],[70.8,0.274],[73.6,0.264],[76.5,0.293],[78.8,0.27],[81.2,0.293],[84,0.252],[87,0.262],[90,0.245],[93,0.268],[96,0.25],[99,0.24],[102,0.262],[105,0.245],[108,0.252],[111,0.238],[114,0.255],[117,0.24],[120,0.248],[124,0.235],[128,0.25],[132,0.238],[136,0.245],[140,0.232],[144,0.248],[148,0.236],[152,0.242],[156,0.23],[160,0.245],[164,0.232],[168,0.24],[172,0.228],[176,0.242],[180,0.232],[184,0.238],[188,0.228],[192,0.24],[196,0.23],[200,0.236],[204,0.225],[208,0.238],[212,0.228],[216,0.232],[220,0.222],[224,0.225],[228,0.235],[232,0.222],[236,0.228],[240,0.218],[244,0.232],[248,0.22],[252,0.226],[256,0.215],[260,0.225],[265,0.217],[270,0.215],[276.4,0.217],[280,0.195],[284,0.169],[288,0.14],[291.5,0.12],[295,0.1],[299,0.082],[302.5,0.05],[306.5,0.025],[310,0.01],[314.1,-0.004],[317.9,-0.024],[321.6,-0.004],[325,-0.02],[329.1,-0.014],[333,0.015],[336.5,0.005],[340.5,0.025],[344.3,0.005],[348,-0.014],[351.8,-0.062],[354.6,-0.11],[356.5,-0.071],[358,-0.15],[359,-0.3],[362,-0.3],[364,0.2],[366,-0.3],[368,0.5],[369.5,-0.3],[371,0.35],[372.5,-0.3],[374,0.52],[375.5,-0.1],[377,0.45],[378.5,-0.3],[380,0.4],[381.5,-0.2],[383,0.3],[384.5,0.0],[386,0.12],[387.5,0.0],[389,0.1],[390.5,-0.02],[392,0.08],[393.5,0.02],[395,0.11],[396.5,0.0],[398.6,0.065]];

const seriesPoints = [seaGreen, tealMid, cyanMid, greenMid, blueLower, blueUpper, skyTop, greenTop, purpleB, purpleA, yellowGreenB, yellowGreenA, orangeB, orangeA, redB, redA];
const seriesRadius = [64, 68, 49, 74, 36, 41, 51, 76, 26, 27, 92, 90, 102, 104, 113, 115];

// ---------------- CHART ----------------
const rows = seriesPoints.flatMap((pts, i) => pts.map(([t, B]) => ({t, B, id: i, radius: seriesRadius[i]})));
const colorOpts = {type: "linear", domain: radiusDomain, interpolate: t => d3.hsl(270 * (1 - t), 1, 0.5).formatHex()};
const font = "'Liberation Sans', Arial, Helvetica, sans-serif";

const downHead = {draw(ctx) { ctx.moveTo(0, 0); ctx.lineTo(-7.5, -28); ctx.lineTo(7.5, -28); ctx.closePath(); }};
const upHead = {draw(ctx) { ctx.moveTo(0, 0); ctx.lineTo(-7.5, 27); ctx.lineTo(7.5, 27); ctx.closePath(); }};

const vetoStyle = [
  {top: 184, stroke: "#555", w: 2, dy: 190},
  {top: 179, stroke: "#999", w: 3, dy: 185},
  {top: 307, stroke: "#111", w: 2, dy: 313}
];
const wallStyle = [
  {stroke: "#111", anchor: "start", dx: -76},
  {stroke: "#222", anchor: "middle", dx: 0},
  {stroke: "#888", anchor: "middle", dx: 0},
  {stroke: "#111", anchor: "middle", dx: 0},
  {stroke: "#888", anchor: "start", dx: 0}
];

const marks = [
  Plot.frame({fill: "#f6f6f6", stroke: null, insetTop: -10, insetBottom: -10, insetLeft: -2}),
  Plot.line(rows, {x: "t", y: "B", z: "id", stroke: "radius", strokeWidth: 2, clip: true, strokeLinejoin: "round"}),
  Plot.ruleX([xDomain[0]], {stroke: "#555", strokeWidth: 2.5}),
  Plot.ruleY([yDomain[0]], {dy: 11, stroke: "#777", strokeWidth: 3}),
  Plot.axisY({ticks: yTicks, tickFormat: d => d === 2 ? "2.0Tesla" : d3.format(".1f")(d), tickSize: 23, tickPadding: 13, stroke: "#444", strokeWidth: 2.5, fill: "#222", label: null}),
  Plot.axisX({ticks: xTicks, tickSize: 25, tickPadding: 17, dy: 11, stroke: "#555", strokeWidth: 2, fill: "#222", label: null}),
  Plot.text(["Poloidal Field (Tesla)"], {frameAnchor: "left", textAnchor: "middle", rotate: -90, dx: -159, fontSize: 31, fill: "#222"}),
  Plot.text(["Tokamak Shot 10826"], {frameAnchor: "top", textAnchor: "middle", lineAnchor: "bottom", dx: -51.5, dy: -16, fontSize: 31, fill: "#222"}),
  Plot.text(["Pot BZ Single Graph DF2"], {frameAnchor: "top", textAnchor: "middle", lineAnchor: "bottom", dx: -54.5, dy: 25, fontSize: 31, fill: "#24248f"}),
  Plot.text(["µs"], {frameAnchor: "bottom", textAnchor: "middle", lineAnchor: "middle", dy: 157, fontSize: 30, fill: "#222"}),
  Plot.text(["Time>>"], {frameAnchor: "bottom", textAnchor: "middle", lineAnchor: "bottom", dx: -55.5, dy: 238, fontSize: 50, fill: "#111"}),
  Plot.text(["<ProbeRadiusMM>"], {frameAnchor: "right", textAnchor: "middle", rotate: 90, dx: 44, dy: -64.5, fontSize: 31, fill: "#222"}),
  ...vetoTimes.map((t, i) => Plot.ruleX([t], {insetTop: vetoStyle[i].top, insetBottom: -5, stroke: vetoStyle[i].stroke, strokeWidth: vetoStyle[i].w})),
  Plot.dot(vetoTimes, {x: d => d, frameAnchor: "bottom", dy: 5, symbol: downHead, fill: "#111", stroke: null}),
  ...vetoTimes.map((t, i) => Plot.text([vetoLabels[i]], {x: () => t, frameAnchor: "top", textAnchor: "start", lineAnchor: "top", lineHeight: 1.13, dx: 2, dy: vetoStyle[i].dy, fontSize: 31, fill: "#222"})),
  ...wallTimes.map((t, i) => Plot.ruleX([t], {insetTop: 859, insetBottom: -83, stroke: wallStyle[i].stroke, strokeWidth: 2})),
  Plot.dot(wallTimes, {x: d => d, frameAnchor: "bottom", dy: 20, symbol: upHead, fill: "#111", stroke: null}),
  ...wallTimes.map((t, i) => Plot.text([wallLabels[i]], {x: () => t, frameAnchor: "bottom", textAnchor: wallStyle[i].anchor, lineAnchor: "top", lineHeight: 1.16, dx: wallStyle[i].dx, dy: 88, fontSize: 31, fill: "#222"}))
];

const chart = Plot.plot({
  width: 1696, height: 1143,
  marginLeft: 191, marginRight: 74, marginTop: 53, marginBottom: 251,
  style: {fontFamily: font, fontSize: "31px", background: "#fff", color: "#222", overflow: "visible"},
  x: {domain: xDomain},
  y: {domain: yDomain},
  color: colorOpts,
  marks
});
const wrap = document.getElementById("wrap");
wrap.appendChild(chart);

// colorbar (vertical ramp) drawn with its own Plot over the chart
const cbStep = 0.5;
const cbSteps = d3.range(radiusDomain[0], radiusDomain[1], cbStep);
const cb = Plot.plot({
  width: 2 + 38 + 150, height: 2 + 605 + 2,
  marginLeft: 2, marginRight: 150, marginTop: 2, marginBottom: 2,
  style: {fontFamily: font, fontSize: "31px", background: "transparent", color: "#222", overflow: "visible"},
  x: {domain: [0, 1], axis: null},
  y: {domain: radiusDomain, axis: null},
  color: colorOpts,
  marks: [
    Plot.rect(cbSteps, {x1: 0, x2: 1, y1: d => d, y2: d => Math.min(d + cbStep * 1.6, radiusDomain[1]), fill: d => d + cbStep / 2}),
    Plot.frame({stroke: "#000", strokeWidth: 2.5}),
    Plot.axisY({anchor: "right", ticks: radiusTicks, tickSize: 23, tickPadding: 12, stroke: "#222", strokeWidth: 2, fill: "#222", label: null})
  ]
});
cb.style.position = "absolute";
cb.style.left = "1505px";
cb.style.top = "104.7px";
wrap.appendChild(cb);
</script></body></html>
